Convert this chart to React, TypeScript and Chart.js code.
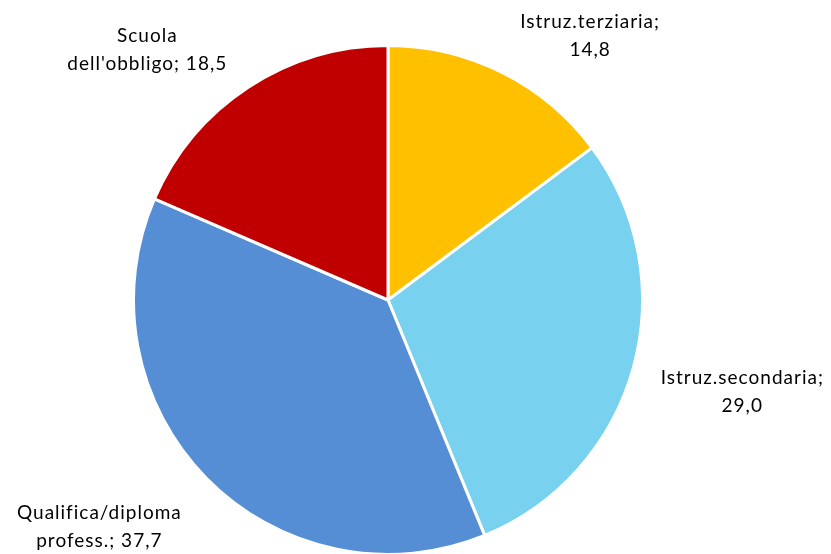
import React, { useEffect, useRef } from "react";
import { Chart, registerables } from "chart.js";

Chart.register(...registerables);

const categories = ["Istruz.terziaria", "Istruz.secondaria", "Qualifica/diploma profess.", "Scuola dell'obbligo"];
const values = [14.8, 29.0, 37.7, 18.5];
const labelLines = [
  ["Istruz.terziaria;", "14,8"],
  ["Istruz.secondaria;", "29,0"],
  ["Qualifica/diploma", "profess.; 37,7"],
  ["Scuola", "dell'obbligo; 18,5"],
];
const colors = ["#FFC000", "#78D1EE", "#558ED5", "#C00000"];
// label offsets relative to each slice's outer mid-point
const labelOffsets = [
  [88, -37],
  [109, 24],
  [-107, 49],
  [-101, -37],
];

const labelPlugin = {
  id: "sliceLabels",
  afterDatasetsDraw(chart: any) {
    const ctx = chart.ctx;
    const meta = chart.getDatasetMeta(0);
    ctx.save();
    ctx.font = "19px Lato, 'Open Sans', sans-serif";
    (ctx as any).letterSpacing = "1px";
    ctx.fillStyle = "#000";
    ctx.textAlign = "center";
    ctx.textBaseline = "middle";
    meta.data.forEach((arc: any, i: number) => {
      const p = arc.getProps(["x", "y", "startAngle", "endAngle", "outerRadius"], true);
      const mid = (p.startAngle + p.endAngle) / 2;
      const ox = p.x + Math.cos(mid) * p.outerRadius + labelOffsets[i][0];
      const oy = p.y + Math.sin(mid) * p.outerRadius + labelOffsets[i][1];
      const lines = labelLines[i];
      const lh = 28;
      lines.forEach((t, k) => {
        ctx.fillText(t, ox, oy + (k - (lines.length - 1) / 2) * lh);
      });
    });
    ctx.restore();
  },
};

export default function App() {
  const ref = useRef<HTMLCanvasElement>(null);
  useEffect(() => {
    document.body.style.margin = "0";
    document.body.style.overflow = "hidden";
    const chart = new Chart(ref.current!, {
      type: "pie",
      data: {
        labels: categories,
        datasets: [
          {
            data: values,
            backgroundColor: colors,
            borderColor: "#FFFFFF",
            borderWidth: 3,
          },
        ],
      },
      options: {
        responsive: false,
        animation: false,
        layout: { padding: { top: 44, left: 0, right: 55, bottom: 0 } },
        plugins: {
          legend: { display: false },
          tooltip: { enabled: false },
        },
      },
      plugins: [labelPlugin],
    });
    return () => chart.destroy();
  }, []);
  return <canvas ref={ref} width={831} height={556} style={{ display: "block" }} />;
}
